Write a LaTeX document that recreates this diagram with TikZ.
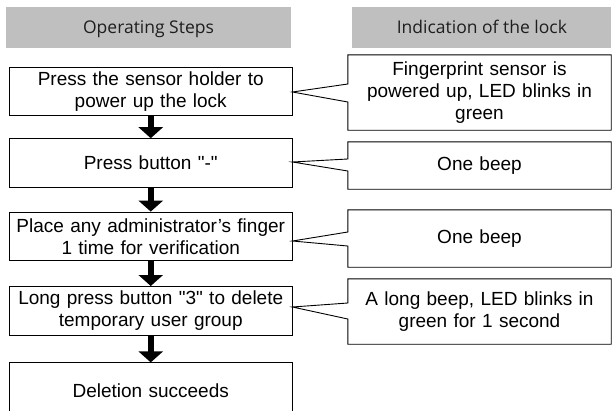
\documentclass[tikz,border=0pt]{standalone}
\usepackage{fontspec}
\setmainfont{Liberation Sans}
\newfontfamily\headfont{Open Sans}
\usetikzlibrary{arrows.meta,positioning}
\definecolor{hdgray}{RGB}{191,191,191}
\definecolor{hdtext}{RGB}{30,30,30}
\tikzstyle{header} = [rectangle, fill=hdgray, minimum height=41pt, text centered, inner sep=0pt, text height=12.5pt, text depth=0pt, text=hdtext, font=\headfont\fontsize{17.5}{20}\selectfont]
\tikzstyle{stepbox} = [rectangle, draw=black, line width=0.9pt, minimum width=282.5pt, minimum height=48.5pt, text width=278pt, align=center, inner sep=0pt, font=\fontsize{19}{22}\selectfont]
\tikzstyle{indication} = [rectangle, minimum width=263pt, text width=258pt, align=center, inner sep=0pt, font=\fontsize{19}{22}\selectfont]
\tikzstyle{steparrow} = [line width=6pt, -{Triangle[width=24pt,length=11pt]}]
\tikzstyle{callout} = [draw=black, line width=0.9pt, line join=miter]

\begin{document}
\begin{tikzpicture}[x=1pt, y=-1pt]
\useasboundingbox (0,0) rectangle (613,410);
\clip (0,0) rectangle (613,410);
% Column headers
\node (opsteps) [header, minimum width=285pt] at (148.5,27.5) {Operating Steps};
\node (lockind) [header, minimum width=259pt, right=61pt of opsteps] {Indication of the lock};

% Operating steps
\node (press) [stepbox] at (150.75,91.5) {Press the sensor holder to\\power up the lock};
\node (minus) [stepbox, below=22pt of press] {Press button \textquotedbl-\textquotedbl};
\node (place) [stepbox, below=24pt of minus] {Place any administrator’s finger\\1 time for verification};
\node (longpress) [stepbox, below=25pt of place] {Long press button \textquotedbl3\textquotedbl{} to delete\\temporary user group};
\node (done) [stepbox, below=27pt of longpress, minimum height=56pt] {Deletion succeeds};

\draw[steparrow] (press) -- (minus);
\draw[steparrow] (minus) -- (place);
\draw[steparrow] (place) -- (longpress);
\draw[steparrow] (longpress) -- (done);

% Indications of the lock
\node (powered) [indication, minimum height=75pt] at (479.5,92.5) {Fingerprint sensor is\\powered up, LED blinks in\\green};
\node (beepone) [indication, minimum height=47pt] at (479.5,165.5) {One beep};
\node (beeptwo) [indication, minimum height=57pt] at (479.5,238.5) {One beep};
\node (longbeep) [indication, minimum height=65pt] at (479.5,311.5) {A long beep, LED blinks in\\green for 1 second};

\foreach \s/\c/\a/\b/\p in {press/powered/84/102/92, minus/beepone/159/171/162, place/beeptwo/232/246/241, longpress/longbeep/303/319/307}
  \draw[callout] (\c.west |- 0,\b) -- (\s.east |- 0,\p) -- (\c.west |- 0,\a) -- (\c.north west) -- (\c.north east) -- (\c.south east) -- (\c.south west) -- cycle;
\end{tikzpicture}
\end{document}
